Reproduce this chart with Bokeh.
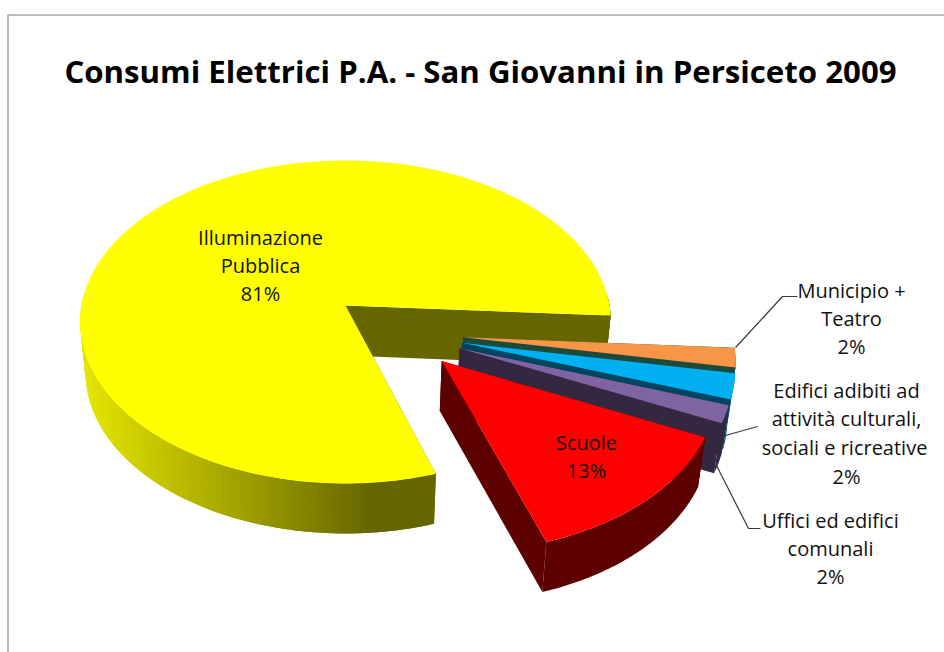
import math
from bokeh.plotting import figure
from bokeh.embed import file_html
from bokeh.resources import INLINE
from bokeh.core.properties import value

# ---- data ----
categories = ["Illuminazione Pubblica", "Municipio + Teatro",
              "Edifici adibiti ad attività culturali, sociali e ricreative",
              "Uffici ed edifici comunali", "Scuole"]
shares = [81, 1.85, 2.45, 1.7, 13]
top_colors = ["#FFFF00", "#F79646", "#00B0F0", "#8064A2", "#FF0000"]
wall_colors = ["#666600", "#1B4A3C", "#00455F", "#33283F", "#5C0000"]
title_text = "Consumi Elettrici P.A. - San Giovanni in Persiceto 2009"

# ---- pie geometry (reference pixel space) ----
FIRST_ANGLE = -72.0
APEX_X, APEX_Y = 345.0, 305.0
RX, RY, K = 264.0, 159.8, 0.102
DEPTH, SHRINK = 50.0, 0.98
explode_u = [0.0, 0.437, 0.431, 0.42, 0.352]
explode_v = [0.0, -0.195, -0.228, -0.26, -0.335]


def project(u, v):
    w = 1 + K * v
    return APEX_X + RX * u / w, APEX_Y - RY * v / w


def drop(pt):
    return APEX_X + (pt[0] - APEX_X) * SHRINK, pt[1] + DEPTH


def hexcol(r, g, b):
    return "#%02x%02x%02x" % (int(r), int(g), int(b))


def yellow_wall(x):
    t = min(1.0, max(0.0, (x - 85) / 285))
    c = 228 + (102 - 228) * t
    return hexcol(c, c, 0)


p = figure(width=944, height=652, x_range=(0, 944), y_range=(652, 0),
           output_backend="svg", toolbar_location=None, min_border=0)
p.axis.visible = False
p.grid.visible = False
p.outline_line_color = None
p.background_fill_color = "white"
p.border_fill_color = "white"

# chart frame
p.line([7.5, 7.5, 944], [652, 14.5, 14.5], line_color="#a6a6a6", line_width=1.6)

total = float(sum(shares))
angle = FIRST_ANGLE
for i, share in enumerate(shares):
    sweep = 360.0 * share / total
    a0, a1 = angle, angle - sweep
    angle = a1
    du, dv = explode_u[i], explode_v[i]
    n = max(6, int(sweep * 1.2))
    angles = [math.radians(a0 + (a1 - a0) * j / n) for j in range(n + 1)]
    arc = [project(du + math.cos(a), dv + math.sin(a)) for a in angles]
    apex = project(du, dv)
    wall = wall_colors[i]

    # radial cut walls
    for end in (arc[0], arc[-1]):
        q = [apex, end, drop(end), drop(apex)]
        p.patch([c[0] for c in q], [c[1] for c in q], fill_color=wall, line_color=None)
    # outer rim: only the part that faces the viewer
    front = [k for k, a in enumerate(angles) if math.sin(a) < 0.08]
    if i == 0:
        for k in front:
            if k + 1 >= len(arc):
                continue
            e = arc[min(k + 2, len(arc) - 1)]
            if math.sin(angles[min(k + 2, len(arc) - 1)]) >= 0.08:
                e = arc[k + 1]
            s = arc[k]
            q = [s, e, drop(e), drop(s)]
            p.patch([c[0] for c in q], [c[1] for c in q],
                    fill_color=yellow_wall((s[0] + e[0]) / 2), line_color=None)
    else:
        top_edge = [arc[k] for k in front]
        rim = top_edge + [drop(c) for c in reversed(top_edge)]
        p.patch([c[0] for c in rim], [c[1] for c in rim], fill_color=wall, line_color=None)
    # top face
    outline = [apex] + arc
    p.patch([c[0] for c in outline], [c[1] for c in outline],
            fill_color=top_colors[i], line_color=None)

# leader lines
leader_x = [[735, 782, 797], [725, 757], [716, 748, 760]]
leader_y = [[347, 296, 296], [435, 426], [465, 528, 528]]
p.multi_line(leader_x, leader_y, line_color="#3a3a3a", line_width=1.2)

# labels
label_lines = ["Illuminazione", "Pubblica", "81%", "Scuole", "13%",
               "Municipio +", "Teatro", "2%",
               "Edifici adibiti ad", "attività culturali,", "sociali e ricreative", "2%",
               "Uffici ed edifici", "comunali", "2%"]
label_x = [260, 260, 260, 586, 586, 851, 851, 851, 846, 846, 844, 846, 830, 830, 830]
label_y = [237, 265, 293, 442, 470, 290, 318, 346, 390, 418, 447, 476, 520, 548, 576]
p.text(label_x, label_y, text=label_lines, text_align="center", text_baseline="middle",
       text_font=value("Open Sans"), text_font_size="20px", text_color="#111111")

p.text([480], [70], text=[title_text], text_align="center", text_baseline="middle",
       text_font=value("Open Sans"), text_font_style="bold", text_font_size="31.2px",
       text_color="black")

open("out.html", "w").write(file_html(p, INLINE))
